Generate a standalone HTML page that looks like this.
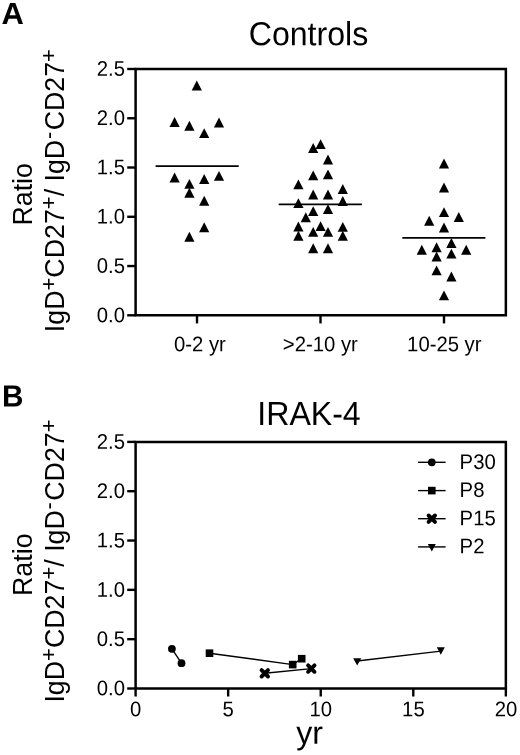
<!DOCTYPE html>
<html lang="en"><head><meta charset="utf-8"><title>Figure</title>
<style>html,body{margin:0;padding:0;background:#fff}body{width:520px;height:755px;overflow:hidden}svg{display:block}</style>
</head><body>
<svg width="520" height="755" viewBox="0 0 520 755" font-family="'Liberation Sans', sans-serif" fill="#000">
<rect width="520" height="755" fill="#fff"/>
<text transform="translate(1.40 24.10) scale(1 0.985) rotate(0.03)" font-size="31" font-weight="bold">A</text>
<text transform="translate(308.50 45.20) scale(1 1.04) rotate(0.03)" font-size="32.1" text-anchor="middle">Controls</text>
<path d="M135.6 69.0H505.85V315.3H135.6Z" fill="none" stroke="#000" stroke-width="2.5" stroke-linejoin="miter"/>
<path d="M127.2 69.00H135.6" stroke="#000" stroke-width="2.4" stroke-linecap="butt"/>
<text transform="translate(125.00 75.85) scale(1 1.04) rotate(0.03)" font-size="20.3" text-anchor="end">2.5</text>
<path d="M127.2 118.26H135.6" stroke="#000" stroke-width="2.4" stroke-linecap="butt"/>
<text transform="translate(125.00 125.11) scale(1 1.04) rotate(0.03)" font-size="20.3" text-anchor="end">2.0</text>
<path d="M127.2 167.52H135.6" stroke="#000" stroke-width="2.4" stroke-linecap="butt"/>
<text transform="translate(125.00 174.37) scale(1 1.04) rotate(0.03)" font-size="20.3" text-anchor="end">1.5</text>
<path d="M127.2 216.78H135.6" stroke="#000" stroke-width="2.4" stroke-linecap="butt"/>
<text transform="translate(125.00 223.63) scale(1 1.04) rotate(0.03)" font-size="20.3" text-anchor="end">1.0</text>
<path d="M127.2 266.04H135.6" stroke="#000" stroke-width="2.4" stroke-linecap="butt"/>
<text transform="translate(125.00 272.89) scale(1 1.04) rotate(0.03)" font-size="20.3" text-anchor="end">0.5</text>
<path d="M127.2 315.30H135.6" stroke="#000" stroke-width="2.4" stroke-linecap="butt"/>
<text transform="translate(125.00 322.15) scale(1 1.04) rotate(0.03)" font-size="20.3" text-anchor="end">0.0</text>
<path d="M197 315.3V323.4" stroke="#000" stroke-width="2.4"/>
<text transform="translate(199.90 351.30) scale(1 1.04) rotate(0.03)" font-size="20.3" text-anchor="middle">0-2 yr</text>
<path d="M320.5 315.3V323.4" stroke="#000" stroke-width="2.4"/>
<text transform="translate(320.30 351.30) scale(1 1.04) rotate(0.03)" font-size="20.3" text-anchor="middle">&gt;2-10 yr</text>
<path d="M444 315.3V323.4" stroke="#000" stroke-width="2.4"/>
<text transform="translate(444.30 351.30) scale(1 1.04) rotate(0.03)" font-size="20.3" text-anchor="middle">10-25 yr</text>
<g><path d="M196.8 80.6L201.9 90.5H191.7Z"/><path d="M174.6 117.0L179.7 126.9H169.5Z"/><path d="M189.4 120.8L194.5 130.7H184.3Z"/><path d="M204.2 128.2L209.3 138.1H199.1Z"/><path d="M219.0 117.6L224.1 127.5H213.9Z"/><path d="M174.6 172.6L179.7 182.5H169.5Z"/><path d="M189.4 178.9L194.5 188.8H184.3Z"/><path d="M204.2 174.0L209.3 183.9H199.1Z"/><path d="M219.0 170.9L224.1 180.8H213.9Z"/><path d="M189.4 187.8L194.5 197.7H184.3Z"/><path d="M204.2 195.8L209.3 205.7H199.1Z"/><path d="M204.2 222.3L209.3 232.2H199.1Z"/><path d="M189.4 231.8L194.5 241.7H184.3Z"/><path d="M320.6 139.2L325.7 149.1H315.5Z"/><path d="M313.2 143.1L318.3 153.0H308.1Z"/><path d="M328.0 154.6L333.1 164.5H322.9Z"/><path d="M313.2 170.4L318.3 180.3H308.1Z"/><path d="M328.0 169.4L333.1 179.3H322.9Z"/><path d="M298.4 179.4L303.5 189.3H293.3Z"/><path d="M342.8 184.0L347.9 193.9H337.7Z"/><path d="M313.2 189.5L318.3 199.4H308.1Z"/><path d="M328.0 189.5L333.1 199.4H322.9Z"/><path d="M342.8 196.0L347.9 205.9H337.7Z"/><path d="M298.4 198.2L303.5 208.1H293.3Z"/><path d="M313.2 206.2L318.3 216.1H308.1Z"/><path d="M328.0 204.2L333.1 214.1H322.9Z"/><path d="M305.8 212.3L310.9 222.2H300.7Z"/><path d="M320.6 221.2L325.7 231.1H315.5Z"/><path d="M298.4 221.5L303.5 231.4H293.3Z"/><path d="M342.8 221.9L347.9 231.8H337.7Z"/><path d="M313.2 226.9L318.3 236.8H308.1Z"/><path d="M328.0 226.9L333.1 236.8H322.9Z"/><path d="M298.4 230.8L303.5 240.7H293.3Z"/><path d="M342.8 230.8L347.9 240.7H337.7Z"/><path d="M313.2 243.3L318.3 253.2H308.1Z"/><path d="M328.0 243.3L333.1 253.2H322.9Z"/><path d="M444.0 158.5L449.1 168.4H438.9Z"/><path d="M444.0 182.5L449.1 192.4H438.9Z"/><path d="M444.0 207.2L449.1 217.1H438.9Z"/><path d="M458.8 212.0L463.9 221.9H453.7Z"/><path d="M429.2 215.8L434.3 225.7H424.1Z"/><path d="M444.0 222.6L449.1 232.5H438.9Z"/><path d="M451.4 238.1L456.5 248.0H446.3Z"/><path d="M436.6 242.3L441.7 252.2H431.5Z"/><path d="M421.8 244.8L426.9 254.7H416.7Z"/><path d="M466.2 244.8L471.3 254.7H461.1Z"/><path d="M451.4 248.7L456.5 258.6H446.3Z"/><path d="M436.6 251.5L441.7 261.4H431.5Z"/><path d="M436.6 265.4L441.7 275.3H431.5Z"/><path d="M451.4 271.5L456.5 281.4H446.3Z"/><path d="M444.0 290.4L449.1 300.3H438.9Z"/></g>
<path d="M155.6 166.2H238.7" stroke="#000" stroke-width="1.7"/>
<path d="M278.7 204.4H361.9" stroke="#000" stroke-width="1.7"/>
<path d="M402.3 237.9H485.4" stroke="#000" stroke-width="1.7"/>
<text transform="translate(32 225.6) rotate(-90) scale(1 1.045)" font-size="26.8">Ratio</text>
<text transform="translate(64.3 332.2) rotate(-90) scale(1 1.045)" font-size="26.8">IgD<tspan dy="-7.9" font-size="22">+</tspan><tspan dy="7.9">CD27</tspan><tspan dy="-7.9" font-size="22">+</tspan><tspan dy="7.9">/ IgD</tspan><tspan dy="-7.9" dx="0.8" font-size="22">-</tspan><tspan dy="7.9" dx="1.3">CD27</tspan><tspan dy="-7.9" font-size="22">+</tspan></text>
<text transform="translate(1.90 406.40) scale(1 1.03) rotate(0.03)" font-size="29.7" font-weight="bold">B</text>
<text transform="translate(309.00 425.00) scale(1 1.04) rotate(0.03)" font-size="32.1" text-anchor="middle">IRAK-4</text>
<path d="M135.6 441.9H505.85V688.5H135.6Z" fill="none" stroke="#000" stroke-width="2.5" stroke-linejoin="miter"/>
<path d="M127.2 441.90H135.6" stroke="#000" stroke-width="2.4" stroke-linecap="butt"/>
<text transform="translate(125.00 448.75) scale(1 1.04) rotate(0.03)" font-size="20.3" text-anchor="end">2.5</text>
<path d="M127.2 491.22H135.6" stroke="#000" stroke-width="2.4" stroke-linecap="butt"/>
<text transform="translate(125.00 498.07) scale(1 1.04) rotate(0.03)" font-size="20.3" text-anchor="end">2.0</text>
<path d="M127.2 540.54H135.6" stroke="#000" stroke-width="2.4" stroke-linecap="butt"/>
<text transform="translate(125.00 547.39) scale(1 1.04) rotate(0.03)" font-size="20.3" text-anchor="end">1.5</text>
<path d="M127.2 589.86H135.6" stroke="#000" stroke-width="2.4" stroke-linecap="butt"/>
<text transform="translate(125.00 596.71) scale(1 1.04) rotate(0.03)" font-size="20.3" text-anchor="end">1.0</text>
<path d="M127.2 639.18H135.6" stroke="#000" stroke-width="2.4" stroke-linecap="butt"/>
<text transform="translate(125.00 646.03) scale(1 1.04) rotate(0.03)" font-size="20.3" text-anchor="end">0.5</text>
<path d="M127.2 688.50H135.6" stroke="#000" stroke-width="2.4" stroke-linecap="butt"/>
<text transform="translate(125.00 695.35) scale(1 1.04) rotate(0.03)" font-size="20.3" text-anchor="end">0.0</text>
<path d="M135.60 688.5V696.5" stroke="#000" stroke-width="2.4"/>
<text transform="translate(135.70 716.30) scale(1 1.04) rotate(0.03)" font-size="20.3" text-anchor="middle">0</text>
<path d="M228.16 688.5V696.5" stroke="#000" stroke-width="2.4"/>
<text transform="translate(228.26 716.30) scale(1 1.04) rotate(0.03)" font-size="20.3" text-anchor="middle">5</text>
<path d="M320.73 688.5V696.5" stroke="#000" stroke-width="2.4"/>
<text transform="translate(320.83 716.30) scale(1 1.04) rotate(0.03)" font-size="20.3" text-anchor="middle">10</text>
<path d="M413.29 688.5V696.5" stroke="#000" stroke-width="2.4"/>
<text transform="translate(413.39 716.30) scale(1 1.04) rotate(0.03)" font-size="20.3" text-anchor="middle">15</text>
<path d="M505.85 688.5V696.5" stroke="#000" stroke-width="2.4"/>
<text transform="translate(505.95 716.30) scale(1 1.04) rotate(0.03)" font-size="20.3" text-anchor="middle">20</text>
<text transform="translate(296.20 743.80) scale(1 1.0) rotate(0.03)" font-size="32.1">yr</text>
<text transform="translate(32 596.0) rotate(-90) scale(1 1.045)" font-size="26.8">Ratio</text>
<text transform="translate(64.3 702.6) rotate(-90) scale(1 1.045)" font-size="26.8">IgD<tspan dy="-7.9" font-size="22">+</tspan><tspan dy="7.9">CD27</tspan><tspan dy="-7.9" font-size="22">+</tspan><tspan dy="7.9">/ IgD</tspan><tspan dy="-7.9" dx="0.8" font-size="22">-</tspan><tspan dy="7.9" dx="1.3">CD27</tspan><tspan dy="-7.9" font-size="22">+</tspan></text>
<path d="M171.9 648.8L181.5 663.2" stroke="#000" stroke-width="1.4" fill="none"/><circle cx="171.9" cy="648.8" r="3.9"/><circle cx="181.5" cy="663.2" r="3.9"/>
<path d="M209.5 653.2L292.7 664.6L301.7 658.7" stroke="#000" stroke-width="1.4" fill="none"/><rect x="205.7" y="649.4" width="7.6" height="7.6"/><rect x="288.9" y="660.8" width="7.6" height="7.6"/><rect x="297.9" y="654.9" width="7.6" height="7.6"/>
<path d="M264.8 673.3L311.3 668.6" stroke="#000" stroke-width="1.4" fill="none"/><path d="M261.6 670.1L268.0 676.5M261.6 676.5L268.0 670.1" stroke="#000" stroke-width="3.9" stroke-linecap="round" fill="none"/><path d="M308.1 665.4L314.5 671.8M308.1 671.8L314.5 665.4" stroke="#000" stroke-width="3.9" stroke-linecap="round" fill="none"/>
<path d="M357.2 661.0L440.8 651.1" stroke="#000" stroke-width="1.4" fill="none"/><path d="M353.2 658.2H361.2L357.2 665.6Z"/><path d="M436.8 647.3H444.8L440.8 654.7Z"/>
<path d="M418.1 462.3L445.6 462.3" stroke="#000" stroke-width="1.4" fill="none"/><circle cx="431.8" cy="462.3" r="3.9"/>
<text transform="translate(459.60 469.00) scale(1 1.04) rotate(0.03)" font-size="20.3">P30</text>
<path d="M418.1 490.6L445.6 490.6" stroke="#000" stroke-width="1.4" fill="none"/><rect x="428.0" y="486.8" width="7.6" height="7.6"/>
<text transform="translate(459.60 497.10) scale(1 1.04) rotate(0.03)" font-size="20.3">P8</text>
<path d="M418.1 518.7L445.6 518.7" stroke="#000" stroke-width="1.4" fill="none"/><path d="M428.6 515.5L435.0 521.9M428.6 521.9L435.0 515.5" stroke="#000" stroke-width="3.9" stroke-linecap="round" fill="none"/>
<text transform="translate(459.60 525.20) scale(1 1.04) rotate(0.03)" font-size="20.3">P15</text>
<path d="M418.1 546.9L445.6 546.9" stroke="#000" stroke-width="1.4" fill="none"/><path d="M427.8 544.1H435.8L431.8 551.5Z"/>
<text transform="translate(459.60 553.30) scale(1 1.04) rotate(0.03)" font-size="20.3">P2</text>
</svg>
</body></html>
